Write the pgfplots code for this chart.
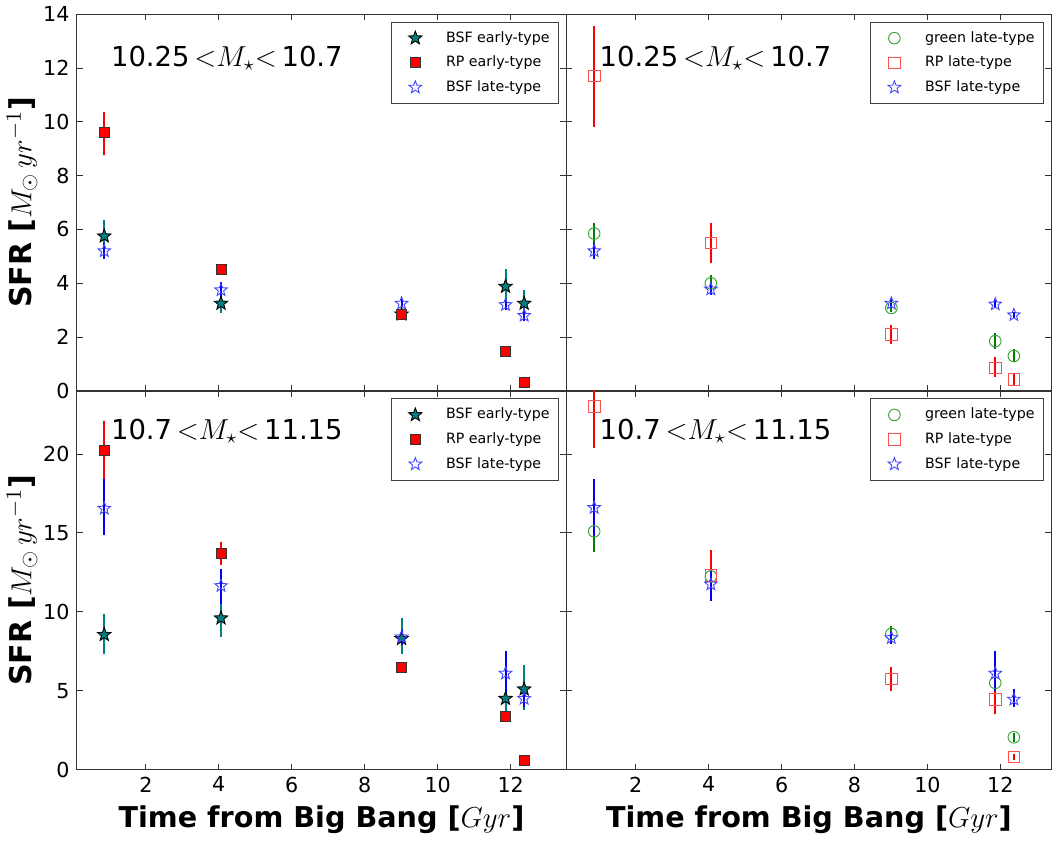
\documentclass[border=0pt]{standalone}
\usepackage{pgfplots}
\pgfplotsset{compat=1.18}
\usepackage{fontspec}
\setmainfont{DejaVu Sans}
\usetikzlibrary{plotmarks}

\definecolor{tealc}{RGB}{0,128,128}
\definecolor{bstar}{RGB}{70,70,255}
\definecolor{gcirc}{RGB}{50,160,50}
\definecolor{rsq}{RGB}{255,80,80}
\definecolor{gerr}{RGB}{0,128,0}

\pgfdeclareplotmark{fstar}{%
  \pgfpathmoveto{\pgfpointpolar{90}{\pgfplotmarksize}}%
  \pgfpathlineto{\pgfpointpolar{126}{0.42\pgfplotmarksize}}%
  \pgfpathlineto{\pgfpointpolar{162}{\pgfplotmarksize}}%
  \pgfpathlineto{\pgfpointpolar{198}{0.42\pgfplotmarksize}}%
  \pgfpathlineto{\pgfpointpolar{234}{\pgfplotmarksize}}%
  \pgfpathlineto{\pgfpointpolar{270}{0.42\pgfplotmarksize}}%
  \pgfpathlineto{\pgfpointpolar{306}{\pgfplotmarksize}}%
  \pgfpathlineto{\pgfpointpolar{342}{0.42\pgfplotmarksize}}%
  \pgfpathlineto{\pgfpointpolar{18}{\pgfplotmarksize}}%
  \pgfpathlineto{\pgfpointpolar{54}{0.42\pgfplotmarksize}}%
  \pgfpathclose\pgfusepathqfillstroke}
\pgfdeclareplotmark{ostar}{%
  \pgfpathmoveto{\pgfpointpolar{90}{\pgfplotmarksize}}%
  \pgfpathlineto{\pgfpointpolar{126}{0.42\pgfplotmarksize}}%
  \pgfpathlineto{\pgfpointpolar{162}{\pgfplotmarksize}}%
  \pgfpathlineto{\pgfpointpolar{198}{0.42\pgfplotmarksize}}%
  \pgfpathlineto{\pgfpointpolar{234}{\pgfplotmarksize}}%
  \pgfpathlineto{\pgfpointpolar{270}{0.42\pgfplotmarksize}}%
  \pgfpathlineto{\pgfpointpolar{306}{\pgfplotmarksize}}%
  \pgfpathlineto{\pgfpointpolar{342}{0.42\pgfplotmarksize}}%
  \pgfpathlineto{\pgfpointpolar{18}{\pgfplotmarksize}}%
  \pgfpathlineto{\pgfpointpolar{54}{0.42\pgfplotmarksize}}%
  \pgfpathclose\pgfusepathqstroke}

\pgfplotsset{
  panel/.style={
    scale only axis,
    anchor=south west,
    xmin=0.1,
    xtick={2,4,6,8,10,12},
    axis line style={black!80, line width=0.6pt},
    major tick length=3pt,
    tick style={black!80, line width=0.5pt},
    tick label style={font=\fontsize{10.3}{12}\selectfont},
    /pgf/number format/assume math mode=true,
    ylabel style={font=\fontsize{15}{18}\selectfont\bfseries},
    xlabel style={font=\fontsize{14.3}{17}\selectfont\bfseries},
    ylabel shift=-4pt,
    legend style={at={(0.985,0.98)}, anchor=north east, draw=black!75,
      font=\fontsize{7.1}{8.5}\selectfont, row sep=1.4pt, inner sep=2.5pt,
      line width=0.5pt},
    legend image code/.code={%
      \path (0cm,0cm) (0.78cm,0cm);
      \draw[#1] plot coordinates {(0.32cm,0cm)};},
    legend cell align=left,
    clip=true,
  },
  ebar/.style={only marks, line width=0.45pt,
    error bars/y dir=both, error bars/y explicit, error bars/error mark=none,
    error bars/error bar style={line width=1pt, #1}},
  bsfe/.style={ebar=tealc, mark=fstar, mark size=3.5pt, draw=black, fill=tealc},
  rpe/.style={ebar=red, mark=square*, mark size=2.5pt, draw=black!80, fill=red},
  bsfl/.style={ebar=blue, mark=ostar, mark size=3.3pt, draw=bstar},
  grl/.style={ebar=gerr, mark=o, mark size=2.9pt, draw=gcirc},
  rpl/.style={ebar=red, mark=square, mark size=2.9pt, draw=rsq},
}

\begin{document}
\begin{tikzpicture}
% ---------------- top left
\begin{axis}[panel, at={(0pt,189pt)}, width=244.5pt, height=188pt,
  xmax=13.53, ymin=0, ymax=14, ytick={0,2,...,14}, xticklabels={},
  ylabel={SFR [$M_\odot\,yr^{-1}$]}]
\addplot[bsfe] coordinates {
 (0.86,5.75) += (0,0.6) -= (0,0.65)
 (4.06,3.25) += (0,0.35) -= (0,0.35)
 (9.01,2.85) += (0,0.15) -= (0,0.15)
 (11.86,3.88) += (0,0.65) -= (0,0.8)
 (12.37,3.25) += (0,0.5) -= (0,0.55)
};
\addlegendentry{BSF early-type}
\addplot[rpe] coordinates {
 (0.86,9.6) += (0,0.75) -= (0,0.85)
 (4.06,4.5) += (0,0.1) -= (0,0.1)
 (9.01,2.85) += (0,0.1) -= (0,0.1)
 (11.86,1.45) += (0,0.1) -= (0,0.1)
 (12.37,0.3) += (0,0.1) -= (0,0.1)
};
\addlegendentry{RP early-type}
\addplot[bsfl] coordinates {
 (0.86,5.2) += (0,0.3) -= (0,0.3)
 (4.06,3.75) += (0,0.3) -= (0,0.3)
 (9.01,3.25) += (0,0.15) -= (0,0.15)
 (11.86,3.2) += (0,0.2) -= (0,0.2)
 (12.37,2.8) += (0,0.2) -= (0,0.2)
};
\addlegendentry{BSF late-type}
\node[anchor=west, font=\fontsize{13.7}{16}\selectfont] at (rel axis cs:0.056,0.883) {10.25$\,{<}M_{\star}{<}\,$10.7};
\end{axis}
% ---------------- top right
\begin{axis}[panel, at={(244.5pt,189pt)}, width=242pt, height=188pt,
  xmax=13.4, ymin=0, ymax=14, ytick={0,2,...,14}, xticklabels={}, yticklabels={}]
\addplot[grl] coordinates {
 (0.86,5.85) += (0,0.4) -= (0,0.5)
 (4.06,4.0) += (0,0.3) -= (0,0.35)
 (9.01,3.08) += (0,0.15) -= (0,0.15)
 (11.86,1.85) += (0,0.3) -= (0,0.3)
 (12.37,1.3) += (0,0.25) -= (0,0.2)
};
\addlegendentry{green late-type}
\addplot[rpl] coordinates {
 (0.86,11.7) += (0,1.85) -= (0,1.9)
 (4.06,5.5) += (0,0.75) -= (0,0.75)
 (9.01,2.1) += (0,0.35) -= (0,0.35)
 (11.86,0.85) += (0,0.4) -= (0,0.35)
 (12.37,0.42) += (0,0.25) -= (0,0.2)
};
\addlegendentry{RP late-type}
\addplot[bsfl] coordinates {
 (0.86,5.2) += (0,0.3) -= (0,0.3)
 (4.06,3.78) += (0,0.2) -= (0,0.2)
 (9.01,3.25) += (0,0.15) -= (0,0.15)
 (11.86,3.22) += (0,0.15) -= (0,0.15)
 (12.37,2.82) += (0,0.1) -= (0,0.1)
};
\addlegendentry{BSF late-type}
\node[anchor=west, font=\fontsize{13.7}{16}\selectfont] at (rel axis cs:0.054,0.883) {10.25$\,{<}M_{\star}{<}\,$10.7};
\end{axis}
% ---------------- bottom left
\begin{axis}[panel, at={(0pt,0pt)}, width=244.5pt, height=189pt,
  xmax=13.53, ymin=0, ymax=24, ytick={0,5,...,20},
  ylabel={SFR [$M_\odot\,yr^{-1}$]}, xlabel={Time from Big Bang [$Gyr$]}]
\addplot[bsfe] coordinates {
 (0.86,8.55) += (0,1.3) -= (0,1.25)
 (4.06,9.6) += (0,1.3) -= (0,1.2)
 (9.01,8.3) += (0,1.3) -= (0,1.0)
 (11.86,4.5) += (0,1.0) -= (0,0.9)
 (12.37,5.1) += (0,1.5) -= (0,1.3)
};
\addlegendentry{BSF early-type}
\addplot[rpe] coordinates {
 (0.86,20.2) += (0,1.9) -= (0,1.85)
 (4.06,13.7) += (0,0.7) -= (0,0.7)
 (9.01,6.45) += (0,0.3) -= (0,0.3)
 (11.86,3.4) += (0,0.3) -= (0,0.3)
 (12.37,0.6) += (0,0.1) -= (0,0.1)
};
\addlegendentry{RP early-type}
\addplot[bsfl] coordinates {
 (0.86,16.55) += (0,1.85) -= (0,1.7)
 (4.06,11.65) += (0,1.05) -= (0,1.15)
 (9.01,8.4) += (0,0.5) -= (0,0.5)
 (11.86,6.1) += (0,1.4) -= (0,1.3)
 (12.37,4.5) += (0,0.6) -= (0,0.5)
};
\addlegendentry{BSF late-type}
\node[anchor=west, font=\fontsize{13.7}{16}\selectfont] at (rel axis cs:0.056,0.894) {10.7$\,{<}M_{\star}{<}\,$11.15};
\end{axis}
% ---------------- bottom right
\begin{axis}[panel, at={(244.5pt,0pt)}, width=242pt, height=189pt,
  xmax=13.4, ymin=0, ymax=24, ytick={0,5,...,20}, yticklabels={},
  xlabel={Time from Big Bang [$Gyr$]}]
\addplot[grl] coordinates {
 (0.86,15.1) += (0,1.4) -= (0,1.3)
 (4.06,12.25) += (0,0.5) -= (0,0.5)
 (9.01,8.6) += (0,0.5) -= (0,0.4)
 (11.86,5.5) += (0,0.7) -= (0,0.6)
 (12.37,2.05) += (0,0.3) -= (0,0.3)
};
\addlegendentry{green late-type}
\addplot[rpl] coordinates {
 (0.86,23.0) += (0,2.0) -= (0,2.6)
 (4.06,12.3) += (0,1.6) -= (0,1.4)
 (9.01,5.75) += (0,0.75) -= (0,0.75)
 (11.86,4.45) += (0,1.0) -= (0,0.95)
 (12.37,0.8) += (0,0.2) -= (0,0.2)
};
\addlegendentry{RP late-type}
\addplot[bsfl] coordinates {
 (0.86,16.6) += (0,1.8) -= (0,1.8)
 (4.06,11.75) += (0,0.95) -= (0,1.05)
 (9.01,8.35) += (0,0.4) -= (0,0.4)
 (11.86,6.1) += (0,1.4) -= (0,1.1)
 (12.37,4.45) += (0,0.65) -= (0,0.45)
};
\addlegendentry{BSF late-type}
\node[anchor=west, font=\fontsize{13.7}{16}\selectfont] at (rel axis cs:0.054,0.894) {10.7$\,{<}M_{\star}{<}\,$11.15};
\end{axis}
\end{tikzpicture}
\end{document}
